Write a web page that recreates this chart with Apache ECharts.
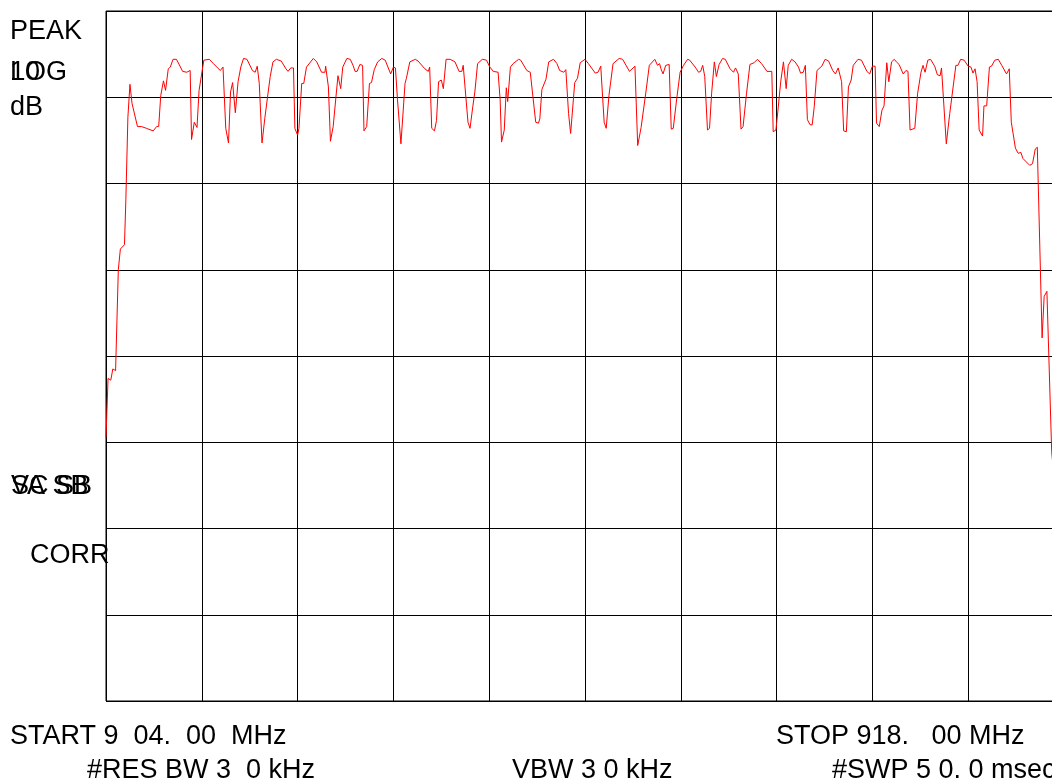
<!DOCTYPE html>
<html>
<head>
<meta charset="utf-8">
<script src="https://cdn.jsdelivr.net/npm/echarts@6/dist/echarts.min.js"></script>
<style>
  html, body { margin: 0; padding: 0; background: #fff; overflow: hidden; }
  /* the graticule runs past the right edge of the screen, so the canvas is wider than the window */
  #chart { width: 1072px; height: 780px; }
</style>
</head>
<body>
<div id="chart"></div>
<script>
// sweep settings
const startMHz = 904;
const stopMHz = 918;
const refLevel = 0;      // top graticule line, dB
const dbPerDiv = 10;
const xDivs = 10;
const yDivs = 8;

// trace: [frequency MHz, level dB]
const tracePoints = [
  [904.00,-49.4],[904.03,-42.6],[904.07,-42.8],[904.10,-41.5],[904.14,-41.7],[904.18,-30.0],[904.21,-27.6],[904.27,-27.1],
  [904.29,-21.9],[904.32,-12.3],[904.35,-8.5],[904.38,-10.7],[904.46,-13.4],[904.52,-13.4],[904.59,-13.6],[904.69,-13.9],
  [904.74,-13.4],[904.77,-13.4],[904.80,-9.8],[904.84,-8.1],[904.87,-9.2],[904.91,-6.7],[904.94,-6.5],[904.98,-5.6],
  [905.03,-5.6],[905.12,-7.0],[905.18,-7.1],[905.23,-6.9],[905.25,-14.9],[905.29,-12.9],[905.33,-13.5],[905.36,-9.2],
  [905.43,-5.7],[905.51,-5.6],[905.57,-6.1],[905.67,-6.9],[905.71,-6.5],[905.75,-13.6],[905.79,-15.3],[905.82,-9.4],
  [905.85,-8.3],[905.89,-11.8],[905.93,-8.2],[905.97,-6.5],[906.01,-5.5],[906.06,-5.6],[906.14,-6.9],[906.18,-7.1],
  [906.21,-6.4],[906.24,-8.4],[906.28,-15.3],[906.32,-12.5],[906.36,-10.0],[906.40,-7.6],[906.44,-5.9],[906.49,-5.6],
  [906.56,-5.8],[906.63,-6.7],[906.66,-7.0],[906.70,-6.6],[906.74,-6.6],[906.76,-13.6],[906.80,-14.4],[906.82,-13.6],
  [906.86,-8.4],[906.89,-8.4],[906.93,-6.5],[907.03,-5.5],[907.08,-5.9],[907.15,-7.1],[907.20,-7.1],[907.21,-6.4],
  [907.25,-8.8],[907.28,-15.1],[907.32,-13.4],[907.36,-10.0],[907.39,-7.5],[907.43,-9.0],[907.46,-6.5],[907.52,-5.5],
  [907.57,-5.6],[907.61,-6.3],[907.64,-7.0],[907.67,-7.0],[907.71,-6.2],[907.75,-6.3],[907.77,-13.9],[907.81,-13.4],
  [907.85,-8.4],[907.88,-8.3],[907.92,-6.8],[907.97,-5.9],[908.03,-5.5],[908.08,-5.7],[908.16,-7.3],[908.20,-6.5],
  [908.23,-6.6],[908.26,-10.3],[908.31,-15.4],[908.37,-8.4],[908.39,-7.8],[908.44,-5.9],[908.52,-5.6],[908.56,-5.8],
  [908.66,-6.7],[908.71,-7.0],[908.73,-6.5],[908.76,-13.6],[908.80,-13.9],[908.83,-12.7],[908.86,-8.2],[908.90,-8.0],
  [908.93,-9.0],[908.97,-5.6],[909.03,-5.6],[909.10,-5.9],[909.16,-7.0],[909.20,-7.0],[909.22,-6.3],[909.29,-12.9],
  [909.32,-13.6],[909.36,-11.1],[909.39,-9.4],[909.43,-6.1],[909.50,-5.6],[909.56,-5.7],[909.61,-6.5],[909.66,-7.0],
  [909.73,-7.1],[909.76,-10.3],[909.78,-15.2],[909.82,-13.8],[909.85,-8.9],[909.87,-10.5],[909.91,-6.5],[909.95,-6.1],
  [910.03,-5.6],[910.06,-5.7],[910.15,-6.9],[910.20,-7.1],[910.24,-10.0],[910.28,-12.9],[910.32,-13.0],[910.34,-12.5],
  [910.37,-9.1],[910.43,-7.9],[910.47,-5.9],[910.54,-5.6],[910.59,-6.1],[910.63,-6.9],[910.69,-7.1],[910.72,-6.8],
  [910.76,-11.9],[910.79,-14.2],[910.85,-8.3],[910.89,-7.8],[910.93,-6.0],[911.00,-5.6],[911.05,-6.1],[911.15,-7.2],
  [911.19,-7.1],[911.23,-6.4],[911.28,-12.9],[911.31,-13.6],[911.35,-9.8],[911.41,-6.1],[911.50,-5.5],[911.55,-5.6],
  [911.65,-7.0],[911.73,-6.4],[911.77,-15.6],[911.82,-13.5],[911.84,-13.4],[911.89,-9.4],[911.94,-6.3],[912.02,-5.6],
  [912.06,-6.3],[912.09,-6.1],[912.11,-6.7],[912.14,-7.3],[912.18,-6.3],[912.23,-6.2],[912.26,-13.7],[912.29,-13.6],
  [912.34,-10.2],[912.39,-7.1],[912.44,-6.3],[912.50,-5.6],[912.53,-5.7],[912.61,-6.5],[912.66,-7.1],[912.69,-7.0],
  [912.72,-6.3],[912.75,-7.6],[912.79,-13.8],[912.82,-13.6],[912.85,-9.6],[912.89,-5.9],[912.92,-7.6],[912.96,-6.2],
  [913.01,-5.5],[913.05,-5.6],[913.12,-6.7],[913.17,-7.1],[913.20,-6.6],[913.24,-7.3],[913.28,-13.7],[913.31,-13.4],
  [913.36,-9.6],[913.41,-6.2],[913.47,-6.0],[913.52,-5.6],[913.58,-6.1],[913.66,-7.0],[913.73,-7.0],[913.75,-14.0],
  [913.79,-13.8],[913.82,-11.5],[913.86,-8.2],[913.90,-5.9],[913.94,-9.0],[913.97,-6.3],[914.02,-5.6],[914.07,-5.9],
  [914.12,-6.5],[914.15,-7.2],[914.19,-7.1],[914.22,-6.3],[914.25,-12.6],[914.29,-13.2],[914.32,-13.2],[914.35,-11.1],
  [914.39,-6.9],[914.46,-6.4],[914.51,-5.6],[914.56,-5.8],[914.62,-6.9],[914.66,-7.3],[914.70,-6.6],[914.75,-8.2],
  [914.78,-13.9],[914.82,-14.0],[914.85,-8.8],[914.89,-8.0],[914.92,-6.3],[914.99,-5.6],[915.04,-5.7],[915.12,-7.0],
  [915.16,-7.3],[915.20,-6.4],[915.24,-6.4],[915.26,-13.0],[915.30,-13.4],[915.34,-11.5],[915.37,-11.0],[915.41,-6.0],
  [915.44,-8.2],[915.48,-5.9],[915.52,-5.6],[915.55,-5.9],[915.59,-6.2],[915.61,-6.1],[915.65,-7.3],[915.69,-6.9],
  [915.72,-7.0],[915.75,-13.8],[915.82,-13.6],[915.86,-9.6],[915.91,-7.1],[915.94,-6.3],[915.97,-7.1],[916.01,-5.7],
  [916.05,-5.6],[916.11,-6.4],[916.15,-7.4],[916.19,-7.5],[916.21,-6.6],[916.28,-15.4],[916.33,-11.9],[916.42,-6.3],
  [916.45,-6.3],[916.49,-5.6],[916.54,-5.7],[916.60,-6.4],[916.64,-6.5],[916.67,-7.2],[916.70,-6.7],[916.73,-8.2],
  [916.76,-13.8],[916.81,-14.5],[916.83,-11.0],[916.87,-11.0],[916.91,-6.5],[916.94,-6.4],[916.99,-5.7],[917.04,-5.6],
  [917.09,-6.3],[917.16,-7.3],[917.20,-6.7],[917.23,-12.9],[917.25,-13.0],[917.29,-15.9],[917.33,-16.5],[917.37,-16.4],
  [917.40,-17.1],[917.50,-17.9],[917.54,-17.7],[917.58,-16.0],[917.61,-15.8],[917.68,-37.9],[917.71,-33.1],[917.75,-32.5],
  [917.82,-51.1],[917.90,-58.0]
];

// screen annotations
const leftLabels = ['PEAK', 'LOG', '10', 'dB', 'VA SB', 'SC SB', 'CORR'];
const bottomLabels = ['START 9  04.  00  MHz', 'STOP 918.   00 MHz', '#RES BW 3  0 kHz', 'VBW 3 0 kHz', '#SWP 5 0. 0 msec'];

const FONT = '27px "Liberation Sans", Arial, sans-serif';

function txt(s, x, y){
  return {
    type: 'text', x: x, y: y, silent: true,
    style: { text: s, font: FONT, fill: '#000', verticalAlign: 'top' }
  };
}

let chart = echarts.init(document.getElementById('chart'), null, {renderer: 'canvas'});

let option = {
  animation: false,
  backgroundColor: '#fff',
  grid: {
    left: 106, top: 11, width: 958, height: 690,
    show: true, borderColor: '#000', borderWidth: 1
  },
  xAxis: [{
    // frequency axis used by the trace
    type: 'value', min: startMHz, max: stopMHz,
    show: false, splitLine: {show: false}
  }, {
    // graticule divisions
    type: 'value', min: 0, max: xDivs, interval: 1,
    axisLine: {show: false}, axisTick: {show: false}, axisLabel: {show: false},
    splitLine: {show: true, lineStyle: {color: '#000', width: 1}}
  }],
  yAxis: {
    type: 'value', min: refLevel - dbPerDiv * yDivs, max: refLevel, interval: dbPerDiv,
    axisLine: {show: false}, axisTick: {show: false}, axisLabel: {show: false},
    splitLine: {show: true, lineStyle: {color: '#000', width: 1}}
  },
  series: [{
    type: 'line',
    xAxisIndex: 0,
    data: tracePoints,
    showSymbol: false,
    symbol: 'none',
    clip: false,
    lineStyle: {color: '#ff0000', width: 1},
    z: 5
  }],
  graphic: [
    txt(leftLabels[0], 10, 18),
    txt(leftLabels[1], 10, 59),
    txt(leftLabels[2], 10, 59),
    txt(leftLabels[3], 10, 94),
    txt(leftLabels[4], 11, 473),
    txt(leftLabels[5], 11, 473),
    txt(leftLabels[6], 30, 542),
    txt(bottomLabels[0], 10, 723),
    txt(bottomLabels[1], 776, 723),
    txt(bottomLabels[2], 87, 757),
    txt(bottomLabels[3], 512, 757),
    txt(bottomLabels[4], 832, 757)
  ]
};

chart.setOption(option);
</script>
</body>
</html>
